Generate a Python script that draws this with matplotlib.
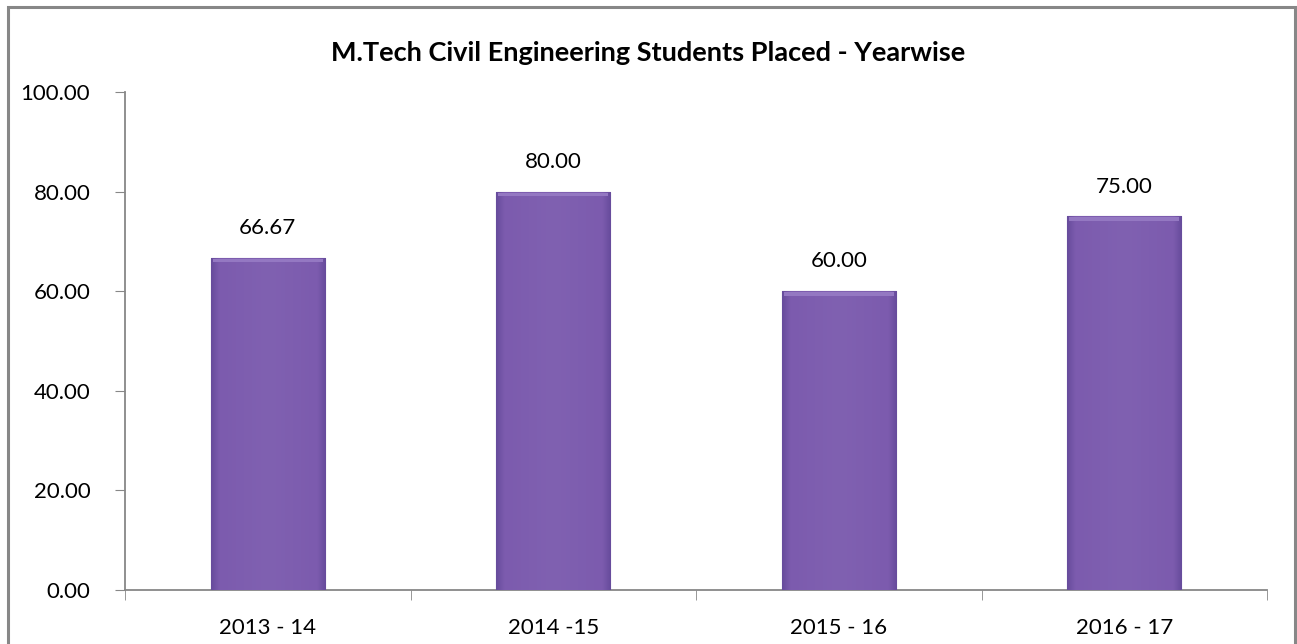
import numpy as np
import matplotlib.pyplot as plt
from matplotlib.patches import Rectangle
from matplotlib.colors import LinearSegmentedColormap

years = ["2013 - 14", "2014 -15", "2015 - 16", "2016 - 17"]
placed = [66.67, 80.00, 60.00, 75.00]
yticks = [0, 20, 40, 60, 80, 100]

plt.rcParams['font.family'] = ['Lato', 'DejaVu Sans']

fig = plt.figure(figsize=(12.97, 6.44), dpi=100)
# outer chart border
fig.patches.append(Rectangle((8 / 1297, -0.05), 1287 / 1297, 1.05 - 7 / 644,
                             transform=fig.transFigure, fill=False,
                             edgecolor='#878787', linewidth=2.2))

ax = fig.add_axes([0.0964, 0.0839, 0.8805, 0.7733])
x = range(len(years))
bars = ax.bar(x, placed, width=0.4, color='#7D5CAF', edgecolor='#654A98',
              linewidth=0.8, zorder=3)

# thin bevel: slightly darker at the bar edges
cmap = LinearSegmentedColormap.from_list(
    'bev', [(0, '#674C9C'), (0.07, '#7C5BAE'), (0.5, '#8061B1'),
            (0.93, '#7C5BAE'), (1, '#674C9C')])
grad = np.linspace(0, 1, 128).reshape(1, -1)
for b in bars:
    x0, w, h = b.get_x(), b.get_width(), b.get_height()
    im = ax.imshow(grad, cmap=cmap, extent=(x0, x0 + w, 0, h), aspect='auto',
                   zorder=3.5, interpolation='bicubic')
    im.set_clip_path(b)
    ax.add_patch(Rectangle((x0 + 0.008, h - 0.9), w - 0.016, 0.7,
                           color='#9478C2', zorder=3.6, linewidth=0))

for b, v in zip(bars, placed):
    ax.text(b.get_x() + b.get_width() / 2, v + 4, f"{v:.2f}",
            ha='center', va='bottom', fontsize=16)

ax.set_xlim(-0.5, len(years) - 0.5)
ax.set_ylim(0, 100)
ax.set_yticks(yticks)
ax.set_yticklabels([f"{t:.2f}" for t in yticks], fontsize=16)
ax.set_xticks(list(x))
ax.set_xticklabels(years, fontsize=16)
ax.tick_params(axis='x', length=0, pad=20)
ax.tick_params(axis='y', length=7, color='#878787', pad=18)
# category boundary ticks
ax.set_xticks([i - 0.5 for i in range(len(years) + 1)], minor=True)
ax.tick_params(axis='x', which='minor', length=7, color='#878787')

for s in ['top', 'right']:
    ax.spines[s].set_visible(False)
for s in ['left', 'bottom']:
    ax.spines[s].set_color('#878787')
    ax.spines[s].set_linewidth(1.3)

fig.text(0.5, 0.918, "M.Tech Civil Engineering Students Placed - Yearwise",
         ha='center', va='center', fontsize=19.5, fontweight='bold')

fig.savefig("out.png", dpi=100)
